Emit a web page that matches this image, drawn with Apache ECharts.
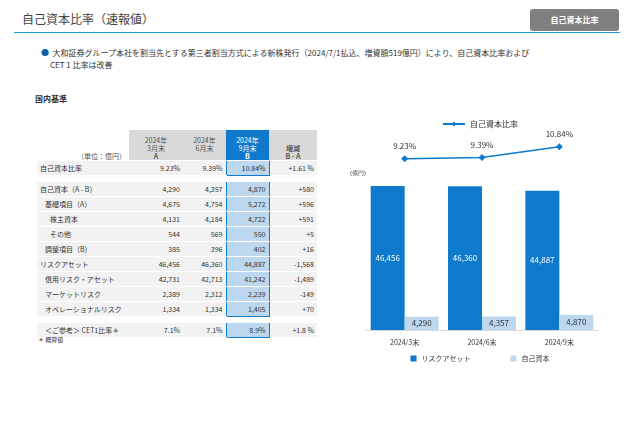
<!DOCTYPE html>
<html>
<head>
<meta charset="UTF-8">
<title>自己資本比率</title>
<script src="https://cdn.jsdelivr.net/npm/echarts@6/dist/echarts.min.js"></script>
<style>
  body { margin:0; width:640px; height:443px; background:#fff; font-family:"Noto Sans CJK JP","Noto Sans",sans-serif; color:#333; position:relative; overflow:hidden; }
  .abs { position:absolute; }
  #tbl { position:absolute; left:37px; top:130px; border-collapse:collapse; font-size:7px; }
  #tbl td { padding:0 3px; height:14px; border-bottom:1px solid #fff; white-space:nowrap; }
  #tbl td.n { text-align:right; }
  #tbl tr.g td { background:#f2f2f2; }
  #tbl td.hl { background:#bdd7ee !important; border-left:1.5px solid #0f7acb; border-right:1.5px solid #0f7acb; }
  #tbl tr.sp td { height:5px; background:#fff; }
  .hd td { text-align:center; color:#555; vertical-align:bottom; line-height:8px; }
</style>
</head>
<body>
<div class="abs" style="left:22px;top:10px;font-size:12px;color:#444;">自己資本比率（速報値）</div>
<div class="abs" style="left:14px;top:32px;width:606px;height:1px;background:#1a9be0;"></div>
<div class="abs" style="left:530px;top:9px;width:89px;height:22px;background:#808080;border-radius:3px;color:#fff;font-size:8px;font-weight:bold;text-align:center;line-height:22px;">自己資本比率</div>
<div class="abs" style="left:41px;top:47px;font-size:8px;color:#333;line-height:12px;"><span style="color:#0f5fa8">●</span>&nbsp; 大和証券グループ本社を割当先とする第三者割当方式による新株発行（2024/7/1払込、増資額519億円）により、自己資本比率および<br>&nbsp;&nbsp;&nbsp;&nbsp;&nbsp;CET 1 比率は改善</div>
<div class="abs" style="left:35px;top:93px;font-size:8px;font-weight:bold;">国内基準</div>

<table id="tbl">
<tr class="hd" style="height:30px">
  <td style="width:86px;text-align:right;background:#fff">（単位：億円）</td>
  <td style="width:48px;background:#d9d9d9">2024年<br>3月末<br><b>A</b></td>
  <td style="width:37px;background:#d9d9d9">2024年<br>6月末<br>&nbsp;</td>
  <td style="width:37px;background:#0f7acb;color:#fff">2024年<br>9月末<br><b>B</b></td>
  <td style="width:42px;background:#d9d9d9"><b>増減<br>B - A</b></td>
</tr>
<tbody id="body"></tbody>
</table>
<div class="abs" style="left:38px;top:335px;font-size:6px;">＊ 概算値</div>

<div id="chart" class="abs" style="left:340px;top:110px;width:280px;height:265px;"></div>

<script>
// 表データ
var rowLabels = ['自己資本比率', '', '自己資本（A - B）', '基礎項目（A）', '株主資本', 'その他', '調整項目（B）', 'リスクアセット', '信用リスク・アセット', 'マーケットリスク', 'オペレーショナルリスク', '', '＜ご参考＞ CET1比率＊'];
var rowIndent = [0, 0, 0, 1, 2, 2, 1, 0, 1, 1, 1, 0, 1];
var colMar = ['9.23%', '', '4,290', '4,675', '4,131', '544', '385', '46,456', '42,731', '2,389', '1,334', '', '7.1%'];
var colJun = ['9.39%', '', '4,357', '4,754', '4,184', '569', '396', '46,360', '42,713', '2,312', '1,334', '', '7.1%'];
var colSep = ['10.84%', '', '4,870', '5,272', '4,722', '550', '402', '44,887', '41,242', '2,239', '1,405', '', '8.9%'];
var colDiff = ['+1.61 %', '', '+580', '+596', '+591', '+5', '+16', '-1,568', '-1,489', '-149', '+70', '', '+1.8 %'];

// チャートデータ
var periods = ['2024/3末', '2024/6末', '2024/9末'];
var riskAssets = [46456, 46360, 44887];
var capital = [4290, 4357, 4870];
var capRatio = [9.23, 9.39, 10.84];

var html = '';
rowLabels.forEach(function (lab, i) {
  if (lab === '') { html += '<tr class="sp"><td colspan="5"></td></tr>'; return; }
  var sepStyle = '';
  if (i === 2) sepStyle = 'border-top:1.5px solid #0f7acb;';
  if (i === 10) sepStyle = 'border-bottom:1.5px solid #0f7acb;';
  if (i === 0 || i === 12) sepStyle = 'border-top:1.5px solid #0f7acb;border-bottom:1.5px solid #0f7acb;';
  html += '<tr class="g"><td style="padding-left:' + (3 + rowIndent[i] * 5) + 'px">' + lab + '</td>' +
    '<td class="n">' + colMar[i] + '</td><td class="n">' + colJun[i] + '</td>' +
    '<td class="n hl" style="' + sepStyle + '">' + colSep[i] + '</td><td class="n">' + colDiff[i] + '</td></tr>';
});
document.getElementById('body').innerHTML = html;

var chart = echarts.init(document.getElementById('chart'));
var font = '"Noto Sans CJK JP", sans-serif';
chart.setOption({
  textStyle: { fontFamily: font },
  animation: false,
  legend: [
    { data: ['自己資本比率'], top: 5, left: 'center', itemWidth: 22, itemHeight: 6,
      textStyle: { fontSize: 8, color: '#333' } },
    { data: ['リスクアセット', '自己資本'], bottom: 8, left: 'center', itemGap: 40,
      itemWidth: 6, itemHeight: 6, icon: 'rect', textStyle: { fontSize: 7, color: '#333' } }
  ],
  graphic: [{ type: 'text', left: 10, top: 60, style: { text: '(億円)', fontSize: 6, fill: '#333' } }],
  grid: [
    { left: 26, width: 232, top: 28, height: 30 },
    { left: 26, width: 232, top: 76, height: 144 }
  ],
  xAxis: [
    { gridIndex: 0, type: 'category', data: periods, show: false },
    { gridIndex: 1, type: 'category', data: periods,
      axisLine: { lineStyle: { color: '#d9d9d9' } }, axisTick: { show: false },
      axisLabel: { fontSize: 7, color: '#333', margin: 9 } }
  ],
  yAxis: [
    { gridIndex: 0, min: 8, max: 12, show: false },
    { gridIndex: 1, min: 0, max: 46456, show: false }
  ],
  series: [
    { name: '自己資本比率', type: 'line', xAxisIndex: 0, yAxisIndex: 0, data: capRatio,
      symbol: 'diamond', symbolSize: 7, lineStyle: { color: '#0f7acb', width: 1.5 },
      itemStyle: { color: '#0f7acb' },
      label: { show: true, position: 'top', distance: 5, fontSize: 8, color: '#333',
        formatter: function (p) { return p.value.toFixed(2) + '%'; } } },
    { name: 'リスクアセット', type: 'bar', xAxisIndex: 1, yAxisIndex: 1, data: riskAssets,
      barWidth: 34, barGap: '0%', itemStyle: { color: '#0f7acb' },
      label: { show: true, position: 'inside', fontSize: 8, color: '#fff',
        formatter: function (p) { return p.value.toLocaleString('en-US'); } } },
    { name: '自己資本', type: 'bar', xAxisIndex: 1, yAxisIndex: 1, data: capital,
      barWidth: 34, itemStyle: { color: '#bdd7ee' },
      label: { show: true, position: 'inside', fontSize: 8, color: '#333',
        formatter: function (p) { return p.value.toLocaleString('en-US'); } } }
  ]
});
</script>
</body>
</html>
